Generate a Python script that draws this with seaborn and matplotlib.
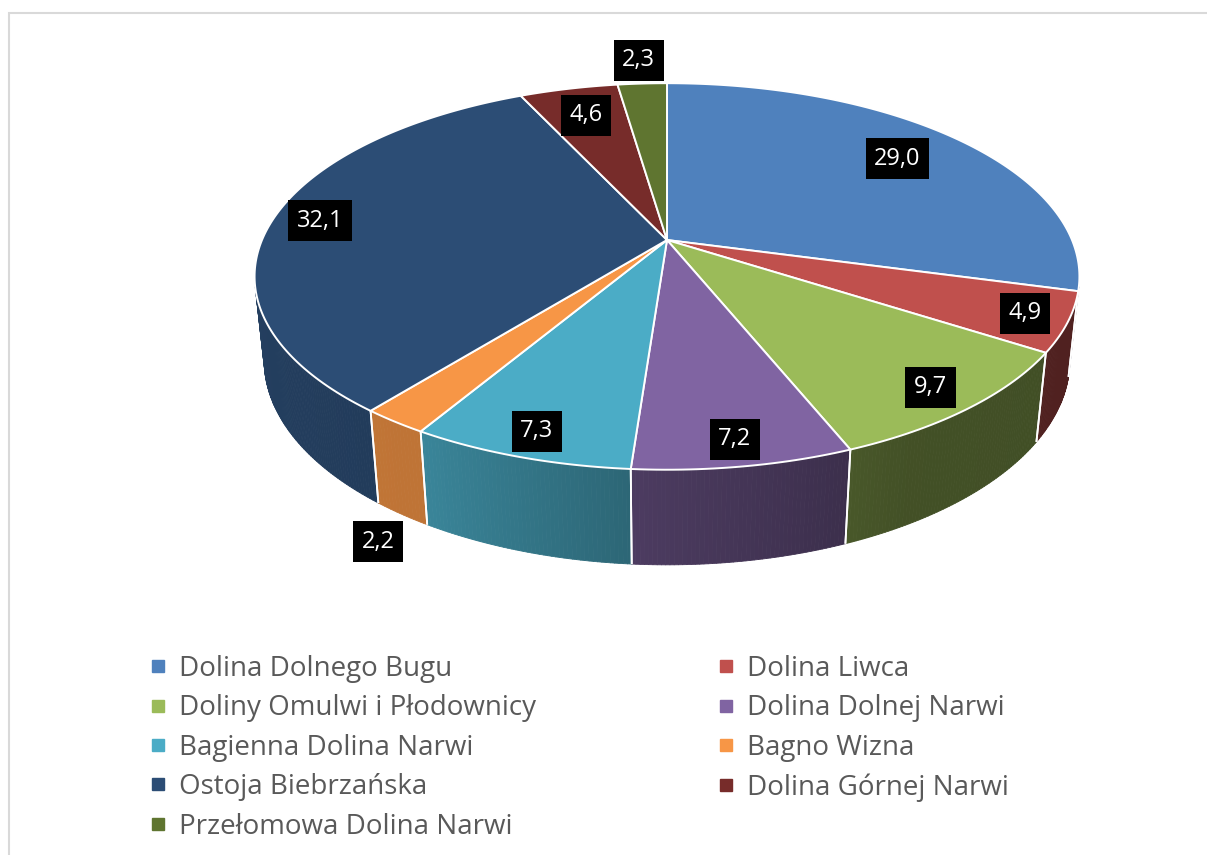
import numpy as np
import matplotlib
matplotlib.use("Agg")
import matplotlib.pyplot as plt
import seaborn as sns
from matplotlib.collections import PolyCollection
from matplotlib.patches import Polygon, Rectangle
from matplotlib.lines import Line2D
import matplotlib.colors as mcolors

# ---------------- data ----------------
categories = [
    "Dolina Dolnego Bugu",
    "Dolina Liwca",
    "Doliny Omulwi i Płodownicy",
    "Dolina Dolnej Narwi",
    "Bagienna Dolina Narwi",
    "Bagno Wizna",
    "Ostoja Biebrzańska",
    "Dolina Górnej Narwi",
    "Przełomowa Dolina Narwi",
]
values = [29.0, 4.9, 9.7, 7.2, 7.3, 2.2, 32.1, 4.6, 2.3]
colors = ["#4F81BD", "#C0504D", "#9BBB59", "#8064A2", "#4BACC6",
          "#F79646", "#2C4D75", "#772C2A", "#5F7530"]

# label placement (style): radial factor, and whether label sits below the wall
label_r = [0.78, 0.90, 0.89, 0.90, 0.90, 1.05, 0.88, 0.80, 1.18]
label_below = [False, False, False, False, False, True, False, False, False]

# ---------------- style / projection ----------------
sns.set_theme(style="white")
plt.rcParams["font.family"] = ["Open Sans", "DejaVu Sans"]

W, H = 1207, 855
fig = plt.figure(figsize=(W / 100, H / 100), dpi=100)
ax = fig.add_axes([0, 0, 1, 1])
ax.set_xlim(0, W)
ax.set_ylim(H, 0)
ax.axis("off")

CX, CY = 667.0, 240.0
FOC = 1906.0
DIST = 4.706
ALPHA = np.deg2rad(27.4)
THICK = 0.2354


def project(phi_deg, r=1.0, z=0.0):
    phi = np.deg2rad(phi_deg)
    x = r * np.sin(phi)
    y = r * np.cos(phi)
    depth = DIST + y * np.cos(ALPHA) - z * np.sin(ALPHA)
    sx = FOC * x / depth
    sy = FOC * (y * np.sin(ALPHA) + z * np.cos(ALPHA)) / depth
    return CX + sx, CY - sy


def shade(color, phi):
    f = np.interp(phi, [100, 150, 185, 210, 260], [0.41, 0.43, 0.60, 0.77, 0.82])
    rgb = np.array(mcolors.to_rgb(color)) * f
    return tuple(np.clip(rgb, 0, 1))


total = sum(values)
edges = np.concatenate([[0.0], np.cumsum(values)]) / total * 360.0

# visible range of the cylinder wall
vis = np.degrees(np.arccos(-1.0 / (DIST * np.cos(ALPHA))))
vmin, vmax = vis, 360.0 - vis

# ---- walls ----
polys, pcols = [], []
bound_lines = []
for i, col in enumerate(colors):
    lo, hi = max(edges[i], vmin), min(edges[i + 1], vmax)
    if lo >= hi:
        continue
    n = max(2, int((hi - lo) / 0.5))
    ph = np.linspace(lo, hi, n + 1)
    for a, b in zip(ph[:-1], ph[1:]):
        ta, tb = project(a), project(b)
        ba, bb = project(a, z=-THICK), project(b, z=-THICK)
        polys.append([ta, tb, bb, ba])
        pcols.append(shade(col, 0.5 * (a + b)))
    for e in (edges[i], edges[i + 1]):
        if vmin < e < vmax:
            bound_lines.append([project(e), project(e, z=-THICK)])

ax.add_collection(PolyCollection(polys, facecolors=pcols, edgecolors=pcols,
                                 linewidths=0.6, zorder=1))
for seg in bound_lines:
    (x0, y0), (x1, y1) = seg
    ax.plot([x0, x1], [y0, y1], color="white", lw=1.3, zorder=2,
            solid_capstyle="butt")

# ---- top face ----
for i, col in enumerate(colors):
    ph = np.linspace(edges[i], edges[i + 1], max(3, int(values[i] * 4)))
    pts = [project(0, r=0)] + [project(p) for p in ph]
    ax.add_patch(Polygon(pts, closed=True, facecolor=col, edgecolor="white",
                         lw=1.4, joinstyle="round", zorder=3))

# ---- data labels ----
for i, v in enumerate(values):
    mid = 0.5 * (edges[i] + edges[i + 1])
    x, y = project(mid, r=label_r[i])
    if label_below[i]:
        _, yb = project(mid, r=label_r[i], z=-THICK)
        y = yb + 16
    ax.text(x, y, f"{v:.1f}".replace(".", ","), color="white", fontsize=17,
            ha="center", va="center", zorder=5,
            bbox=dict(boxstyle="square,pad=0.36", fc="black", ec="none"))

# ---- legend ----
handles = [Line2D([0], [0], marker="s", linestyle="none", markersize=8,
                  markerfacecolor=c, markeredgecolor=c) for c in colors]
order = [0, 2, 4, 6, 8, 1, 3, 5, 7]
leg = fig.legend([handles[k] for k in order], [categories[k] for k in order],
                 ncol=2, loc="upper left", bbox_to_anchor=(150 / W, 1 - 655 / H),
                 frameon=False, fontsize=20, handlelength=0.6, handletextpad=0.45,
                 columnspacing=6.55, labelspacing=0.41, borderpad=0,
                 borderaxespad=0)
for t in leg.get_texts():
    t.set_color("#595959")

# ---- chart border ----
fig.patches.append(Rectangle((9 / W, -0.2), 1.2, 1.2 - 13 / H, transform=fig.transFigure,
                             fill=False, edgecolor="#D9D9D9", lw=1.5, zorder=0))

fig.savefig("out.png", dpi=100, facecolor="white")
